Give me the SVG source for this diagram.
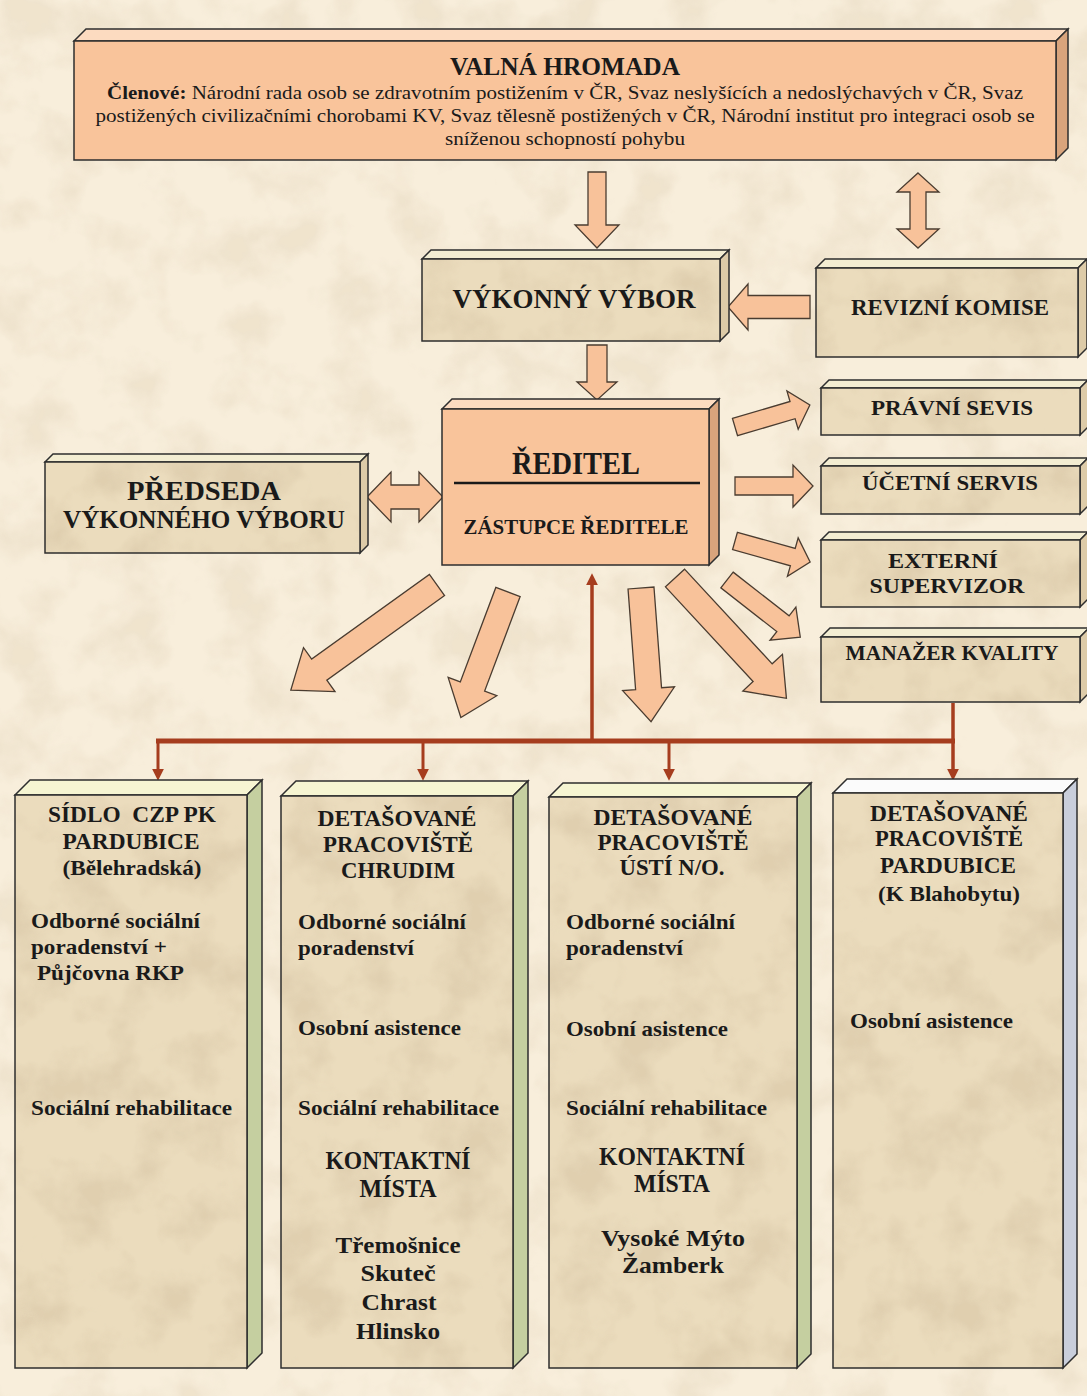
<svg xmlns="http://www.w3.org/2000/svg" width="1087" height="1396" viewBox="0 0 1087 1396">
<style>
.t{font-family:"Liberation Serif","Times New Roman",serif;font-weight:bold;fill:#1a1a1a;dominant-baseline:central;text-anchor:middle}
.l{text-anchor:start}
.r{font-weight:normal}
.fr{stroke:#2e2e2e;stroke-width:1.5}
.peach{fill:#f9c49b}
.ptop{fill:#fcdbc0}
.pside{fill:#d9a47c}
.btop{fill:#f3edd2}
.bside{fill:#ddcba8}
.gtop{fill:#f6f5d2}
.gside{fill:#c5cfa0}
.wtop{fill:#fbfbfb}
.wside{fill:#c9cedb}
.arr{fill:#f8c29a;stroke:#4a3c30;stroke-width:1.3;stroke-linejoin:miter}
.red{stroke:#a63d1e;fill:none}
</style>
<defs>
<filter id="grain" x="0" y="0" width="100%" height="100%">
<feTurbulence type="fractalNoise" baseFrequency="0.018" numOctaves="4" seed="5"/>
<feColorMatrix type="matrix" values="0 0 0 0 0.62  0 0 0 0 0.5  0 0 0 0 0.33  3 0 0 0 -1.3"/>
</filter>
<pattern id="bgTex" patternUnits="userSpaceOnUse" width="1087" height="1396">
<rect width="1087" height="1396" fill="#f8eedb"/>
<rect width="1087" height="1396" filter="url(#grain)" opacity="0.22"/>
</pattern>
<pattern id="boxTex" patternUnits="userSpaceOnUse" width="1087" height="1396">
<rect width="1087" height="1396" fill="#ebdcbd"/>
<rect width="1087" height="1396" filter="url(#grain)" opacity="0.4"/>
</pattern>
<marker id="rh" viewBox="0 0 10 10" refX="1" refY="5" markerWidth="12" markerHeight="12" markerUnits="userSpaceOnUse" orient="auto">
<path d="M0,0 L10,5 L0,10 Z" fill="#a63d1e"/>
</marker>
</defs>
<rect width="1087" height="1396" fill="url(#bgTex)"/>

<g id="connectors">
<path class="arr" d="M0,-9 H53 V-22 L76,0 L53,22 V9 H0 Z" transform="translate(597,172) rotate(90)"/>
<path class="arr" d="M0,0 L19,-21 V-8 H56 V-21 L75,0 L56,21 V8 H19 V21 Z" transform="translate(918,173) rotate(90)"/>
<path class="arr" d="M0,-11.5 H62 V-23 L82,0 L62,23 V11.5 H0 Z" transform="translate(810,307) rotate(180)"/>
<path class="arr" d="M0,-10 H37 V-20 L55,0 L37,20 V10 H0 Z" transform="translate(597,345) rotate(90)"/>
<path class="arr" d="M0,0 L24,-25 V-12 H52 V-25 L76,0 L52,25 V12 H24 V25 Z" transform="translate(367,497)"/>
<path class="arr" d="M0,-9 H60 V-20 L78,0 L60,20 V9 H0 Z" transform="translate(735,427) rotate(-16.35)"/>
<path class="arr" d="M0,-9 H58 V-21 L78,0 L58,21 V9 H0 Z" transform="translate(735,486)"/>
<path class="arr" d="M0,-9 H60 V-20 L78,0 L60,20 V9 H0 Z" transform="translate(735,541) rotate(15.6)"/>
<path class="arr" d="M0,-10 H71 V-21 L93,0 L71,21 V10 H0 Z" transform="translate(727,580) rotate(38)"/>
<path class="arr" d="M0,-13 H145 V-27 L180,0 L145,27 V13 H0 Z" transform="translate(437,585) rotate(144.3)"/>
<path class="arr" d="M0,-13 H101 V-26 L134,0 L101,26 V13 H0 Z" transform="translate(508,592) rotate(110.6)"/>
<path class="arr" d="M0,-13 H101 V-26 L134,0 L101,26 V13 H0 Z" transform="translate(641,588) rotate(85.7)"/>
<path class="arr" d="M0,-13 H129 V-27 L164,0 L129,27 V13 H0 Z" transform="translate(675,578) rotate(47.2)"/>
<path class="red" stroke-width="5" d="M156,741 H955"/>
<path class="red" stroke-width="3.5" d="M592,741 V584" marker-end="url(#rh)"/>
<path class="red" stroke-width="3.5" d="M953,703 V770" marker-end="url(#rh)"/>
<path class="red" stroke-width="3" d="M158,741 V770" marker-end="url(#rh)"/>
<path class="red" stroke-width="3" d="M423,741 V770" marker-end="url(#rh)"/>
<path class="red" stroke-width="3" d="M669,741 V770" marker-end="url(#rh)"/>
</g>

<g id="valna-hromada">
<polygon class="ptop fr" points="74,41 86,29 1068,29 1056,41"/>
<polygon class="pside fr" points="1056,41 1068,29 1068,148 1056,160"/>
<rect class="peach fr" x="74" y="41" width="982" height="119"/>
<text class="t" x="565" y="66" font-size="26" textLength="230" lengthAdjust="spacingAndGlyphs">VALNÁ HROMADA</text>
<text class="t r" x="565" y="92" font-size="19" textLength="916" lengthAdjust="spacingAndGlyphs"><tspan font-weight="bold">Členové:</tspan> Národní rada osob se zdravotním postižením v ČR, Svaz neslyšících a nedoslýchavých v ČR, Svaz</text>
<text class="t r" x="565" y="115" font-size="19" textLength="939" lengthAdjust="spacingAndGlyphs">postižených civilizačními chorobami KV, Svaz tělesně postižených v ČR, Národní institut pro integraci osob se</text>
<text class="t r" x="565" y="138" font-size="19" textLength="240" lengthAdjust="spacingAndGlyphs">sníženou schopností pohybu</text>
</g>

<g id="vykonny-vybor">
<polygon class="btop fr" points="422,259 431,250 729,250 720,259"/>
<polygon class="bside fr" points="720,259 729,250 729,332 720,341"/>
<rect fill="url(#boxTex)" class="fr" x="422" y="259" width="298" height="82"/>
<text class="t" x="574" y="299" font-size="27" textLength="243" lengthAdjust="spacingAndGlyphs">VÝKONNÝ VÝBOR</text>
</g>

<g id="revizni-komise">
<polygon class="btop fr" points="816,268 825,259 1087,259 1078,268"/>
<polygon class="bside fr" points="1078,268 1087,259 1087,348 1078,357"/>
<rect fill="url(#boxTex)" class="fr" x="816" y="268" width="262" height="89"/>
<text class="t" x="950" y="307" font-size="23" textLength="198" lengthAdjust="spacingAndGlyphs">REVIZNÍ KOMISE</text>
</g>

<g id="reditel">
<polygon class="ptop fr" points="442,409 452,399 719,399 709,409"/>
<polygon class="pside fr" points="709,409 719,399 719,555 709,565"/>
<rect class="peach fr" x="442" y="409" width="267" height="156"/>
<text class="t" x="576" y="463" font-size="31" textLength="128" lengthAdjust="spacingAndGlyphs">ŘEDITEL</text>
<line x1="454" y1="483" x2="700" y2="483" stroke="#1a1a1a" stroke-width="2.5"/>
<text class="t" x="576" y="527" font-size="21" textLength="225" lengthAdjust="spacingAndGlyphs">ZÁSTUPCE ŘEDITELE</text>
</g>

<g id="predseda">
<polygon class="btop fr" points="45,462 53,454 368,454 360,462"/>
<polygon class="bside fr" points="360,462 368,454 368,545 360,553"/>
<rect fill="url(#boxTex)" class="fr" x="45" y="462" width="315" height="91"/>
<text class="t" x="204" y="490" font-size="28" textLength="154" lengthAdjust="spacingAndGlyphs">PŘEDSEDA</text>
<text class="t" x="204" y="519" font-size="26" textLength="282" lengthAdjust="spacingAndGlyphs">VÝKONNÉHO VÝBORU</text>
</g>

<g id="pravni-servis">
<polygon class="btop fr" points="821,388 829,380 1088,380 1080,388"/>
<polygon class="bside fr" points="1080,388 1088,380 1088,427 1080,435"/>
<rect fill="url(#boxTex)" class="fr" x="821" y="388" width="259" height="47"/>
<text class="t" x="952" y="407" font-size="22" textLength="162" lengthAdjust="spacingAndGlyphs">PRÁVNÍ SEVIS</text>
</g>

<g id="ucetni-servis">
<polygon class="btop fr" points="821,466 829,458 1088,458 1080,466"/>
<polygon class="bside fr" points="1080,466 1088,458 1088,506 1080,514"/>
<rect fill="url(#boxTex)" class="fr" x="821" y="466" width="259" height="48"/>
<text class="t" x="950" y="482" font-size="22" textLength="176" lengthAdjust="spacingAndGlyphs">ÚČETNÍ SERVIS</text>
</g>

<g id="externi-supervizor">
<polygon class="btop fr" points="821,540 829,532 1088,532 1080,540"/>
<polygon class="bside fr" points="1080,540 1088,532 1088,599 1080,607"/>
<rect fill="url(#boxTex)" class="fr" x="821" y="540" width="259" height="67"/>
<text class="t" x="943" y="560" font-size="22" textLength="110" lengthAdjust="spacingAndGlyphs">EXTERNÍ</text>
<text class="t" x="947" y="585" font-size="22" textLength="155" lengthAdjust="spacingAndGlyphs">SUPERVIZOR</text>
</g>

<g id="manazer-kvality">
<polygon class="btop fr" points="821,637 830,628 1089,628 1080,637"/>
<polygon class="bside fr" points="1080,637 1089,628 1089,693 1080,702"/>
<rect fill="url(#boxTex)" class="fr" x="821" y="637" width="259" height="65"/>
<text class="t" x="952" y="653" font-size="21" textLength="213" lengthAdjust="spacingAndGlyphs">MANAŽER KVALITY</text>
</g>

<g id="sidlo-pardubice">
<polygon class="gtop fr" points="15,795 30,780 262,780 247,795"/>
<polygon class="gside fr" points="247,795 262,780 262,1353 247,1368"/>
<rect fill="url(#boxTex)" class="fr" x="15" y="795" width="232" height="573"/>
<text class="t" x="132" y="814" font-size="24" textLength="168" lengthAdjust="spacingAndGlyphs">SÍDLO&#160; CZP PK</text>
<text class="t" x="131" y="841" font-size="24" textLength="137" lengthAdjust="spacingAndGlyphs">PARDUBICE</text>
<text class="t" x="132" y="867" font-size="22" textLength="139" lengthAdjust="spacingAndGlyphs">(Bělehradská)</text>
<text class="t l" x="31" y="920" font-size="22" textLength="169" lengthAdjust="spacingAndGlyphs">Odborné sociální</text>
<text class="t l" x="31" y="946" font-size="22" textLength="136" lengthAdjust="spacingAndGlyphs">poradenství +</text>
<text class="t l" x="37" y="972" font-size="22" textLength="147" lengthAdjust="spacingAndGlyphs">Půjčovna RKP</text>
<text class="t l" x="31" y="1107" font-size="22" textLength="201" lengthAdjust="spacingAndGlyphs">Sociální rehabilitace</text>
</g>

<g id="pracoviste-chrudim">
<polygon class="gtop fr" points="281,796 296,781 528,781 513,796"/>
<polygon class="gside fr" points="513,796 528,781 528,1353 513,1368"/>
<rect fill="url(#boxTex)" class="fr" x="281" y="796" width="232" height="572"/>
<text class="t" x="397" y="818" font-size="24" textLength="159" lengthAdjust="spacingAndGlyphs">DETAŠOVANÉ</text>
<text class="t" x="398" y="844" font-size="24" textLength="150" lengthAdjust="spacingAndGlyphs">PRACOVIŠTĚ</text>
<text class="t" x="398" y="870" font-size="24" textLength="114" lengthAdjust="spacingAndGlyphs">CHRUDIM</text>
<text class="t l" x="298" y="921" font-size="22" textLength="168" lengthAdjust="spacingAndGlyphs">Odborné sociální</text>
<text class="t l" x="298" y="947" font-size="22" textLength="116" lengthAdjust="spacingAndGlyphs">poradenství</text>
<text class="t l" x="298" y="1027" font-size="22" textLength="163" lengthAdjust="spacingAndGlyphs">Osobní asistence</text>
<text class="t l" x="298" y="1107" font-size="22" textLength="201" lengthAdjust="spacingAndGlyphs">Sociální rehabilitace</text>
<text class="t" x="398" y="1160" font-size="25" textLength="145" lengthAdjust="spacingAndGlyphs">KONTAKTNÍ</text>
<text class="t" x="398" y="1188" font-size="25" textLength="77" lengthAdjust="spacingAndGlyphs">MÍSTA</text>
<text class="t" x="398" y="1245" font-size="24" textLength="125" lengthAdjust="spacingAndGlyphs">Třemošnice</text>
<text class="t" x="398" y="1273" font-size="24" textLength="75" lengthAdjust="spacingAndGlyphs">Skuteč</text>
<text class="t" x="399" y="1302" font-size="24" textLength="75" lengthAdjust="spacingAndGlyphs">Chrast</text>
<text class="t" x="398" y="1331" font-size="24" textLength="84" lengthAdjust="spacingAndGlyphs">Hlinsko</text>
</g>

<g id="pracoviste-usti">
<polygon class="gtop fr" points="549,797 563,783 811,783 797,797"/>
<polygon class="gside fr" points="797,797 811,783 811,1354 797,1368"/>
<rect fill="url(#boxTex)" class="fr" x="549" y="797" width="248" height="571"/>
<text class="t" x="673" y="817" font-size="24" textLength="159" lengthAdjust="spacingAndGlyphs">DETAŠOVANÉ</text>
<text class="t" x="673" y="842" font-size="24" textLength="151" lengthAdjust="spacingAndGlyphs">PRACOVIŠTĚ</text>
<text class="t" x="672" y="867" font-size="24" textLength="105" lengthAdjust="spacingAndGlyphs">ÚSTÍ N/O.</text>
<text class="t l" x="566" y="921" font-size="22" textLength="169" lengthAdjust="spacingAndGlyphs">Odborné sociální</text>
<text class="t l" x="566" y="947" font-size="22" textLength="117" lengthAdjust="spacingAndGlyphs">poradenství</text>
<text class="t l" x="566" y="1028" font-size="22" textLength="162" lengthAdjust="spacingAndGlyphs">Osobní asistence</text>
<text class="t l" x="566" y="1107" font-size="22" textLength="201" lengthAdjust="spacingAndGlyphs">Sociální rehabilitace</text>
<text class="t" x="672" y="1156" font-size="25" textLength="146" lengthAdjust="spacingAndGlyphs">KONTAKTNÍ</text>
<text class="t" x="672" y="1183" font-size="25" textLength="76" lengthAdjust="spacingAndGlyphs">MÍSTA</text>
<text class="t" x="673" y="1238" font-size="24" textLength="144" lengthAdjust="spacingAndGlyphs">Vysoké Mýto</text>
<text class="t" x="673" y="1265" font-size="24" textLength="102" lengthAdjust="spacingAndGlyphs">Žamberk</text>
</g>

<g id="pracoviste-pardubice">
<polygon class="wtop fr" points="833,793 847,779 1077,779 1063,793"/>
<polygon class="wside fr" points="1063,793 1077,779 1077,1354 1063,1368"/>
<rect fill="url(#boxTex)" class="fr" x="833" y="793" width="230" height="575"/>
<text class="t" x="949" y="813" font-size="24" textLength="158" lengthAdjust="spacingAndGlyphs">DETAŠOVANÉ</text>
<text class="t" x="949" y="838" font-size="24" textLength="148" lengthAdjust="spacingAndGlyphs">PRACOVIŠTĚ</text>
<text class="t" x="948" y="865" font-size="24" textLength="136" lengthAdjust="spacingAndGlyphs">PARDUBICE</text>
<text class="t" x="949" y="893" font-size="22" textLength="142" lengthAdjust="spacingAndGlyphs">(K Blahobytu)</text>
<text class="t l" x="850" y="1020" font-size="22" textLength="163" lengthAdjust="spacingAndGlyphs">Osobní asistence</text>
</g>
</svg>
